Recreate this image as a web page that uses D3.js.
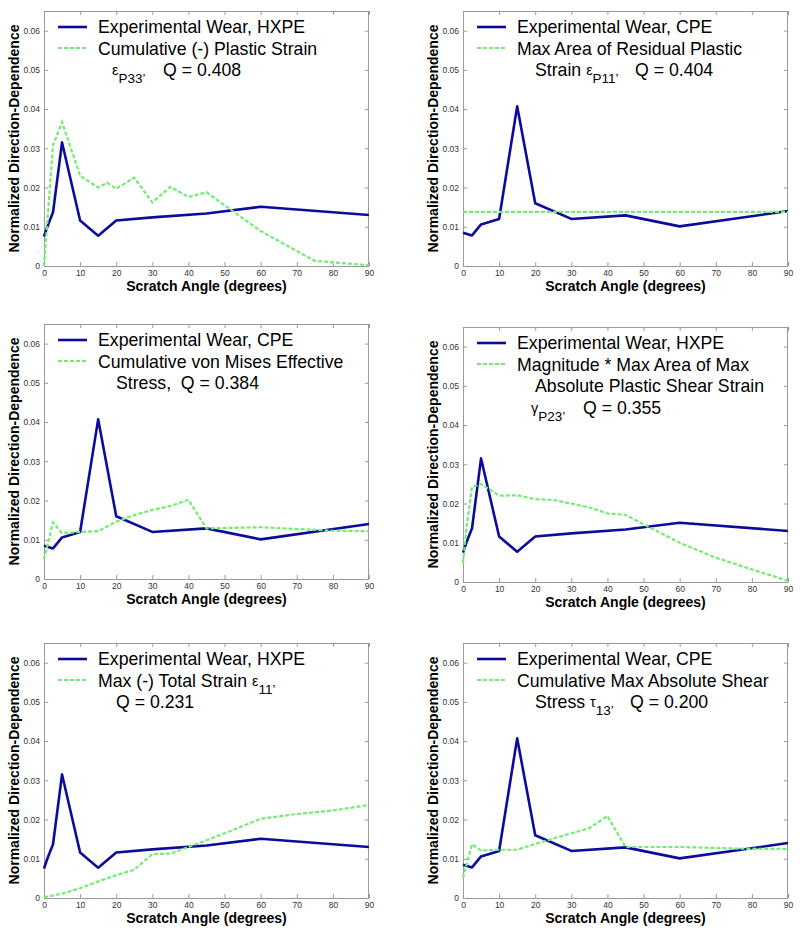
<!DOCTYPE html>
<html><head><meta charset="utf-8">
<script src="https://cdn.jsdelivr.net/npm/d3@7/dist/d3.min.js"></script>
<style>
html,body{margin:0;padding:0;background:#fff;}
svg{display:block;font-family:Arial,"Liberation Sans",Helvetica,sans-serif;}
</style></head>
<body>
<svg id="chart" width="800" height="932"></svg>
<script>
// ---------- data ----------
const xTicks = [0,10,20,30,40,50,60,70,80,90];
const xTickLabels = ["0","10","20","30","40","50","60","70","80","90"];
const yTicks = [0,0.01,0.02,0.03,0.04,0.05,0.06];
const yTickLabels = ["0","0.01","0.02","0.03","0.04","0.05","0.06"];
const xLabel = "Scratch Angle (degrees)";
const yLabel = "Normalized Direction-Dependence";

const hxpeAngles = [0, 1, 2.5, 5, 10, 15, 20, 30, 45, 60, 90];
const hxpeWear   = [0.0075, 0.0102, 0.0137, 0.0315, 0.0116, 0.0077, 0.0116, 0.0124, 0.0134, 0.0151, 0.0130];

const cpeAngles = [0, 2.5, 5, 10, 15, 20, 30, 45, 60, 90];
const cpeWear   = [0.0085, 0.0078, 0.0106, 0.0120, 0.0407, 0.0160, 0.0120, 0.0129, 0.0101, 0.0140];

const plasticStrainAngles = [0, 2.5, 5, 10, 15, 17.5, 20, 25, 30, 35, 40, 45, 60, 75, 90];
const plasticStrainP33    = [0, 0.0308, 0.0367, 0.0230, 0.0200, 0.0212, 0.0197, 0.0225, 0.0162, 0.0202, 0.0176, 0.0188, 0.0089, 0.0013, 0.0002];

const residualAngles = [0, 90];
const residualP11    = [0.0138, 0.0138];

const vonMisesAngles = [0, 2.5, 5, 10, 15, 20, 25, 30, 35, 40, 45, 60, 80, 90];
const vonMises       = [0.0050, 0.0144, 0.0117, 0.0120, 0.0122, 0.0146, 0.0163, 0.0176, 0.0186, 0.0202, 0.0129, 0.0132, 0.0123, 0.0122];

const shearStrainAngles = [0, 1, 2.5, 5, 10, 15, 20, 25, 30, 35, 40, 45, 50, 60, 70, 80, 90];
const shearStrainP23    = [0.0049, 0.0140, 0.0242, 0.0250, 0.0220, 0.0221, 0.0211, 0.0209, 0.0200, 0.0190, 0.0175, 0.0171, 0.0147, 0.0100, 0.0062, 0.0032, 0.0003];

const totalStrainAngles = [0, 5, 10, 15, 20, 25, 30, 35, 40, 45, 50, 60, 70, 80, 90];
const totalStrain11     = [0.0002, 0.0011, 0.0025, 0.0042, 0.0058, 0.0072, 0.0112, 0.0113, 0.0130, 0.0147, 0.0165, 0.0202, 0.0214, 0.0223, 0.0237];

const shearStressAngles = [0, 2.5, 5, 10, 15, 20, 30, 35, 40, 45, 60, 80, 90];
const shearStress13     = [0.0051, 0.0137, 0.0121, 0.0123, 0.0123, 0.0138, 0.0165, 0.0178, 0.0209, 0.0130, 0.0130, 0.0125, 0.0125];

// legend text: arrays of lines; each line = list of [text, style] parts
const legend1 = [
  [["Experimental Wear, HXPE","n"]],
  [["Cumulative (-) Plastic Strain","n"]],
  [["ε","g"],["P33’","s"],["Q = 0.408","q"]]
];
const legend2 = [
  [["Experimental Wear, CPE","n"]],
  [["Max Area of Residual Plastic","n"]],
  [["Strain ","i"],["ε","g"],["P11’","s"],["Q = 0.404","q"]]
];
const legend3 = [
  [["Experimental Wear, CPE","n"]],
  [["Cumulative von Mises Effective","n"]],
  [["Stress,  Q = 0.384","i"]]
];
const legend4 = [
  [["Experimental Wear, HXPE","n"]],
  [["Magnitude * Max Area of Max","n"]],
  [["Absolute Plastic Shear Strain","i"]],
  [["γ","g"],["P23’","s"],["Q = 0.355","q"]]
];
const legend5 = [
  [["Experimental Wear, HXPE","n"]],
  [["Max (-) Total Strain ","n"],["ε","g"],["11’","s"]],
  [["Q = 0.231","i"]]
];
const legend6 = [
  [["Experimental Wear, CPE","n"]],
  [["Cumulative Max Absolute Shear","n"]],
  [["Stress ","i"],["τ","g"],["13’","s"],["Q = 0.200","q"]]
];

// ---------- layout ----------
const W = 325, H = 255;
const panels = [
  {left:44,  top:11,  wa:hxpeAngles, wv:hxpeWear, ga:plasticStrainAngles, gv:plasticStrainP33, legend:legend1, qx:119},
  {left:463, top:11,  wa:cpeAngles,  wv:cpeWear,  ga:residualAngles,      gv:residualP11,      legend:legend2, qx:172},
  {left:44,  top:324, wa:cpeAngles,  wv:cpeWear,  ga:vonMisesAngles,      gv:vonMises,         legend:legend3, qx:0},
  {left:463, top:327, wa:hxpeAngles, wv:hxpeWear, ga:shearStrainAngles,   gv:shearStrainP23,   legend:legend4, qx:120},
  {left:44,  top:643, wa:hxpeAngles, wv:hxpeWear, ga:totalStrainAngles,   gv:totalStrain11,    legend:legend5, qx:0},
  {left:463, top:643, wa:cpeAngles,  wv:cpeWear,  ga:shearStressAngles,   gv:shearStress13,    legend:legend6, qx:167}
];

const blue = "#0c0c9c";
const green = "#74ec74";
const boxColor = "#9a9a9a";

const svg = d3.select("#chart");
const x = d3.scaleLinear().domain([0,90]).range([0,W]);
const y = d3.scaleLinear().domain([0,0.065]).range([H,0]);

panels.forEach((p,i)=>{
  const g = svg.append("g").attr("transform",`translate(${p.left},${p.top})`);
  const clipId = "clip"+i;
  g.append("clipPath").attr("id",clipId).append("rect").attr("x",-1).attr("y",-1).attr("width",W+2).attr("height",H+2);

  const styleAxis = (sel, showLabels) => {
    sel.select(".domain").remove();
    sel.selectAll(".tick line").attr("stroke",boxColor).attr("stroke-width",1);
    sel.selectAll(".tick text").attr("fill","#333").style("font-size","8.5px");
    if(!showLabels) sel.selectAll(".tick text").remove();
  };

  g.append("g").attr("transform",`translate(0,${H})`)
    .call(d3.axisBottom(x).tickValues(xTicks).tickFormat((d,k)=>xTickLabels[k]).tickSize(-4).tickPadding(4))
    .call(s=>styleAxis(s,true));
  g.append("g")
    .call(d3.axisTop(x).tickValues(xTicks).tickSize(-4))
    .call(s=>styleAxis(s,false));
  g.append("g")
    .call(d3.axisLeft(y).tickValues(yTicks).tickFormat((d,k)=>yTickLabels[k]).tickSize(-4).tickPadding(4))
    .call(s=>styleAxis(s,true));
  g.append("g").attr("transform",`translate(${W},0)`)
    .call(d3.axisRight(y).tickValues(yTicks).tickSize(-4))
    .call(s=>styleAxis(s,false));

  g.append("rect").attr("x",0.5).attr("y",0.5).attr("width",W-1).attr("height",H)
    .attr("fill","none").attr("stroke",boxColor).attr("stroke-width",1);

  const line = d3.line().x(d=>x(d[0])).y(d=>y(d[1]));
  const plot = g.append("g").attr("clip-path",`url(#${clipId})`);
  plot.append("path").datum(p.wa.map((a,k)=>[a,p.wv[k]]))
    .attr("d",line).attr("fill","none").attr("stroke",blue).attr("stroke-width",2.6).attr("stroke-linejoin","round");
  plot.append("path").datum(p.ga.map((a,k)=>[a,p.gv[k]]))
    .attr("d",line).attr("fill","none").attr("stroke",green).attr("stroke-width",2.2).attr("stroke-dasharray","4,2");

  // legend
  const lg = g.append("g");
  lg.append("line").attr("x1",14).attr("x2",43).attr("y1",16).attr("y2",16).attr("stroke",blue).attr("stroke-width",2.6);
  lg.append("line").attr("x1",14).attr("x2",43).attr("y1",37).attr("y2",37).attr("stroke",green).attr("stroke-width",2.2).attr("stroke-dasharray","4,2");
  p.legend.forEach((ln,li)=>{
    const baseY = 22 + li*21.5;
    const first = ln[0][1];
    const startX = li<2 ? 54 : (first==="g" ? 68 : 72);
    const t = lg.append("text").attr("x",startX).attr("y",baseY).style("font-size","17.7px").attr("fill","#000")
      .attr("xml:space","preserve").style("white-space","pre");
    ln.forEach(([txt,st])=>{
      if(st==="n"||st==="i") t.append("tspan").text(txt);
      else if(st==="g") t.append("tspan").style("font-size","14.5px").attr("dy",-1).text(txt);
      else if(st==="s") t.append("tspan").style("font-size","13.5px").attr("dy",8).text(txt);
      else if(st==="q") {
        const ts = t.append("tspan").attr("dy",-7).text(txt);
        if(p.qx) ts.attr("x",p.qx);
      }
    });
  });

  // axis labels
  g.append("text").attr("x",W/2).attr("y",H+25).attr("text-anchor","middle")
    .style("font-size","14px").style("font-weight","bold").text(xLabel);
  g.append("text").attr("transform",`translate(-25,${H/2}) rotate(-90)`).attr("text-anchor","middle")
    .style("font-size","14px").style("font-weight","bold").text(yLabel);
});
</script>
</body></html>
